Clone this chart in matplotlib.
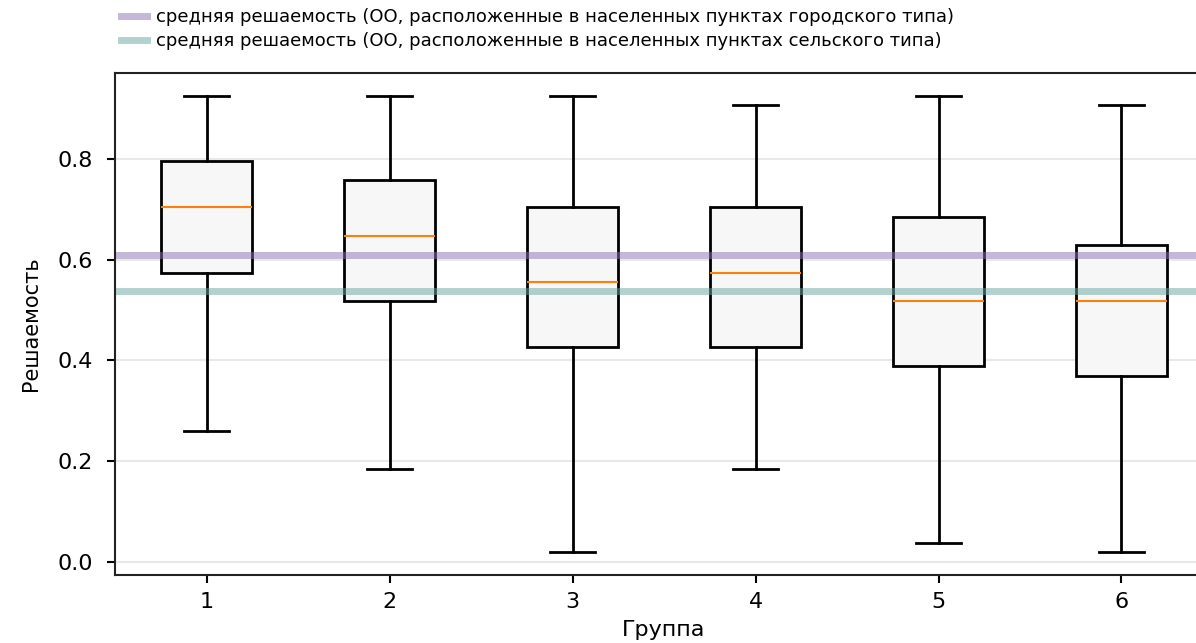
import numpy as np
import matplotlib
matplotlib.use("Agg")
import matplotlib.pyplot as plt

groups = [1, 2, 3, 4, 5, 6]
whislo = [0.259, 0.185, 0.019, 0.185, 0.037, 0.019]
q1 = [0.574, 0.519, 0.426, 0.426, 0.389, 0.370]
med = [0.704, 0.648, 0.556, 0.574, 0.519, 0.519]
q3 = [0.796, 0.759, 0.704, 0.704, 0.685, 0.630]
whishi = [0.926, 0.926, 0.926, 0.907, 0.926, 0.907]

mean_city = 0.609
mean_village = 0.538
label_city = "средняя решаемость (ОО, расположенные в населенных пунктах городского типа)"
label_village = "средняя решаемость (ОО, расположенные в населенных пунктах сельского типа)"

stats = []
for i in range(len(groups)):
    stats.append({"whislo": whislo[i], "q1": q1[i], "med": med[i],
                  "q3": q3[i], "whishi": whishi[i], "fliers": []})

fig = plt.figure(figsize=(11.96, 6.43), dpi=100)
ax = fig.add_axes([0.0962, 0.1058, 0.918, 0.7807])

ax.bxp(stats, positions=groups, widths=0.5, patch_artist=True,
       boxprops=dict(facecolor="#f7f7f7", edgecolor="black", linewidth=2),
       whiskerprops=dict(color="black", linewidth=2),
       capprops=dict(color="black", linewidth=2),
       medianprops=dict(color="#ff7f0e", linewidth=1.5))

ax.axhline(mean_city, color="#8b71b1", alpha=0.5, lw=5, label=label_city)
ax.axhline(mean_village, color="#67a7a1", alpha=0.5, lw=5, label=label_village)

ax.set_xlim(0.5, 6.5)
ax.set_ylim(-0.026, 0.971)
ax.set_yticks([0.0, 0.2, 0.4, 0.6, 0.8])
ax.yaxis.grid(True, color="#e8e8e8", lw=1.5)
ax.set_axisbelow(True)
ax.tick_params(labelsize=16, length=6, width=1.5)
ax.tick_params(axis="y", pad=10)
ax.tick_params(axis="x", pad=6)
for s in ax.spines.values():
    s.set_linewidth(1.5)
    s.set_color("#222222")

ax.set_xlabel("Группа", fontsize=16, labelpad=6)
ax.set_ylabel("Решаемость", fontsize=15, labelpad=12)

fig.legend(loc="upper left", bbox_to_anchor=(0.0878, 1.013), frameon=False,
           prop={"size": 13}, handlelength=1.45, handletextpad=0.45,
           labelspacing=0.35)

fig.savefig("out.png", dpi=100)
